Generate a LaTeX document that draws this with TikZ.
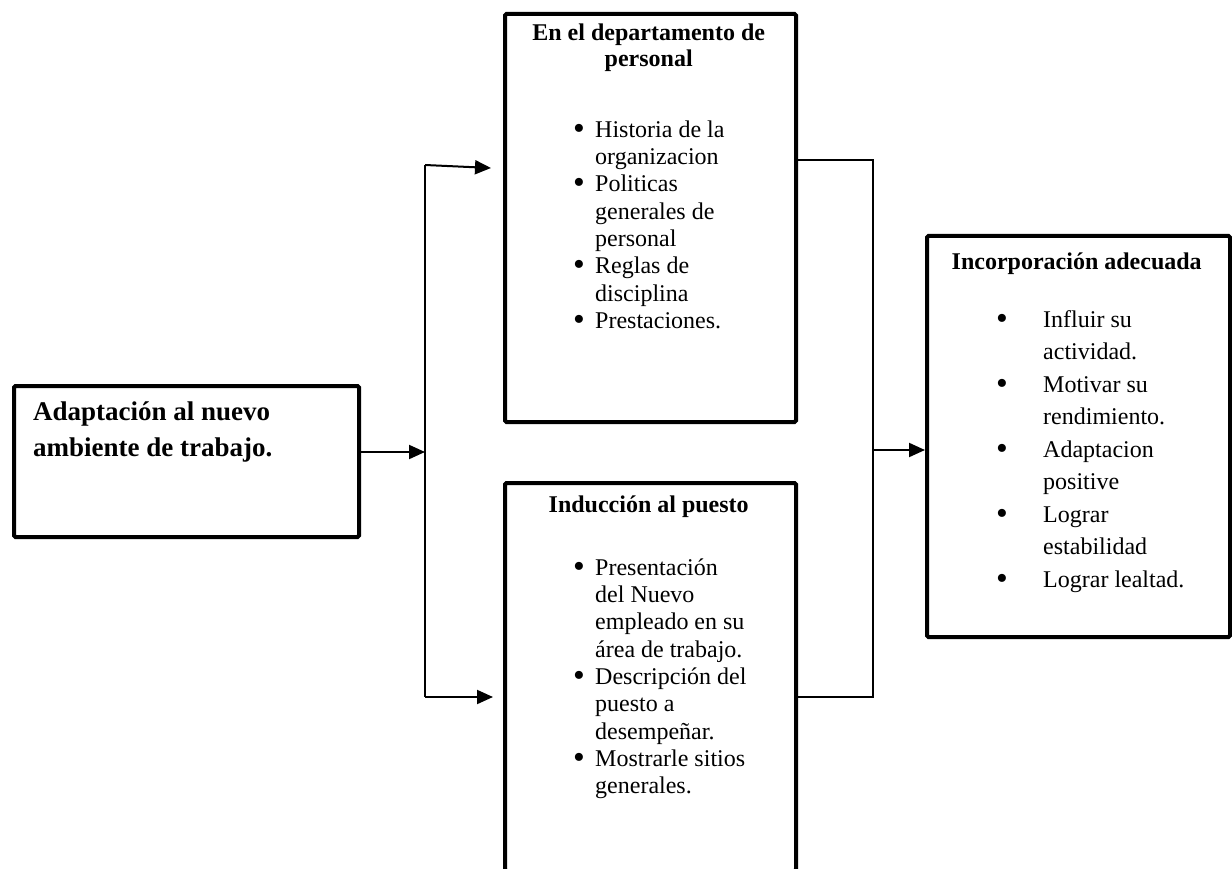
\documentclass[tikz,border=0pt]{standalone}
\usepackage{fontspec}
\setmainfont{Liberation Serif}
\usetikzlibrary{arrows.meta}
\newcommand\bigbul{\raisebox{-0.09em}{\scalebox{1.4}{\textbullet}}}
\newcommand\bulA[1]{\makebox[21pt][l]{\hspace*{-1pt}\bigbul}#1}
\newcommand\contA[1]{\hspace*{21pt}#1}
\newcommand\bulB[1]{\makebox[46pt][l]{\hspace*{-1pt}\bigbul}#1}
\newcommand\contB[1]{\hspace*{46pt}#1}
\begin{document}
\begin{tikzpicture}[x=1pt,y=-1pt,
  box/.style={draw,line width=4pt,rounded corners=1.5pt,anchor=north west,inner sep=0pt},
  conn/.style={line width=2pt},
  arr/.style={conn,-{Triangle[length=16pt,width=14pt]}},
  txt/.style={inner sep=0pt,anchor=north west},
]
\useasboundingbox (0,0) rectangle (1232,869);
% boxes
\node[box,minimum width=345pt,minimum height=151pt] (L) at (12,384) {};
\node[box,minimum width=291pt,minimum height=408pt] (P1) at (503,12) {};
\node[box,minimum width=291pt,minimum height=388pt] (P2) at (503,481) {};
\node[box,minimum width=303pt,minimum height=401pt] (R) at (925,234) {};
% texts
\node[txt] (Lt) at (33,394.8) {\parbox[t]{320pt}{\fontsize{27pt}{36pt}\selectfont\bfseries\strut Adaptación al nuevo\\ambiente de trabajo.}};
\node[txt] (P1h) at (503,21.8) {\parbox[t]{291pt}{\fontsize{24pt}{26pt}\selectfont\bfseries\centering\strut En el departamento de\\personal}};
\node[txt] (P1b) at (574,117.9) {\parbox[t]{215pt}{\fontsize{24pt}{27.3pt}\selectfont\strut
\bulA{Historia de la}\\\contA{organizacion}\\\bulA{Politicas}\\\contA{generales de}\\\contA{personal}\\\bulA{Reglas de}\\\contA{disciplina}\\\bulA{Prestaciones.}}};
\node[txt] (P2h) at (503,493.8) {\parbox[t]{291pt}{\fontsize{24pt}{26pt}\selectfont\bfseries\centering\strut Inducción al puesto}};
\node[txt] (P2b) at (574,555.9) {\parbox[t]{215pt}{\fontsize{24pt}{27.3pt}\selectfont\strut
\bulA{Presentación}\\\contA{del Nuevo}\\\contA{empleado en su}\\\contA{área de trabajo.}\\\bulA{Descripción del}\\\contA{puesto a}\\\contA{desempeñar.}\\\bulA{Mostrarle sitios}\\\contA{generales.}}};
\node[txt] (Rh) at (925,250.8) {\parbox[t]{303pt}{\fontsize{24pt}{26pt}\selectfont\bfseries\centering\strut Incorporación adecuada}};
\node[txt] (Rb) at (997,304.25) {\parbox[t]{225pt}{\fontsize{24pt}{32.5pt}\selectfont\strut
\bulB{Influir su}\\\contB{actividad.}\\\bulB{Motivar su}\\\contB{rendimiento.}\\\bulB{Adaptacion}\\\contB{positive}\\\bulB{Lograr}\\\contB{estabilidad}\\\bulB{Lograr lealtad.}}};
% junctions
\coordinate (ja) at (425,165);
\coordinate (jb) at (425,697);
\coordinate (jm) at (425,452);
\coordinate (ka) at (873,160);
\coordinate (kb) at (873,697);
\coordinate (km) at (873,450);
\coordinate (ta) at (491,168);
% connectors
\draw[arr] (jm -| L.east) -- (jm);
\draw[conn] (ja) -- (jb);
\draw[arr] (ja) -- (ta);
\draw[arr,shorten >=10pt] (jb) -- (jb -| P2.west);
\draw[conn] (ka -| P1.east) -- (ka) -- (kb) -- (kb -| P2.east);
\draw[arr] (km) -- (km -| R.west);
\end{tikzpicture}
\end{document}
